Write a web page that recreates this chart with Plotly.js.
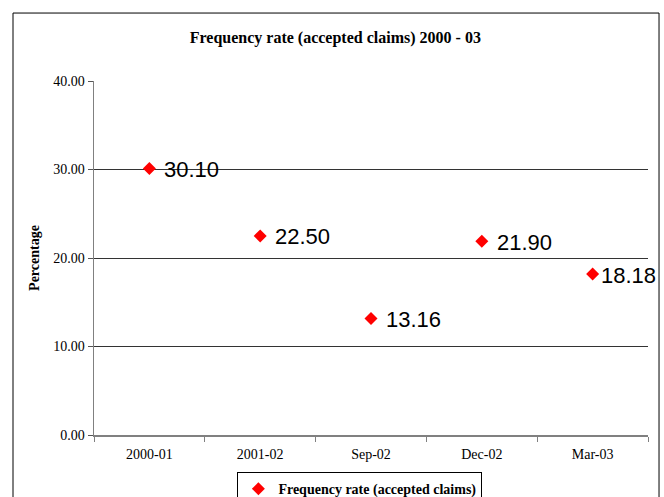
<!DOCTYPE html>
<html><head><meta charset="utf-8">
<script src="https://cdn.plot.ly/plotly-3.0.1.min.js"></script>
<style>body{margin:0;background:#fff}#c{width:664px;height:497px}</style>
</head><body><div id="c"></div>
<script>
const categories = ["2000-01", "2001-02", "Sep-02", "Dec-02", "Mar-03"];
const frequencyRate = [30.10, 22.50, 13.16, 21.90, 18.18];
const yTicks = [0, 10, 20, 30, 40];
const seriesName = "Frequency rate (accepted claims)";
const chartTitle = "Frequency rate (accepted claims) 2000 - 03";
const yTitle = "Percentage";

const serif = "Liberation Serif, Times New Roman, serif";
const sans = "Liberation Sans, Arial, sans-serif";

const trace = {
  type: "scatter",
  mode: "markers",
  x: categories,
  y: frequencyRate,
  name: seriesName,
  marker: {symbol: "diamond", size: 10, color: "#ff0000"},
  cliponaxis: false
};

const labelShift = [13, 13, 13, 13, 6];
const annotations = categories.map((c, i) => ({
  x: c, y: frequencyRate[i], xref: "x", yref: "y",
  text: frequencyRate[i].toFixed(2), showarrow: false,
  xanchor: "left", yanchor: "middle", xshift: labelShift[i], yshift: -1,
  font: {family: sans, size: 22, color: "#000"}
}));

const layout = {
  width: 664, height: 497,
  margin: {l: 94, r: 16, t: 81, b: 62, autoexpand: false},
  paper_bgcolor: "#fff", plot_bgcolor: "#fff",
  title: {text: "<b>" + chartTitle + "</b>", font: {family: serif, size: 16, color: "#000"},
          x: 0.505, xanchor: "center", y: 0.925, yanchor: "middle", xref: "container", yref: "container"},
  showlegend: true,
  legend: {orientation: "h", x: 0.542, xanchor: "center", xref: "container",
           y: 0.05, yanchor: "top", yref: "container",
           bordercolor: "#000", borderwidth: 1, bgcolor: "#fff",
           font: {family: serif, size: 14, color: "#000", weight: "bold"},
           itemwidth: 30},
  xaxis: {type: "category", range: [-0.5, 4.5], autorange: false, showgrid: false, showline: true,
          linecolor: "#808080", linewidth: 1.5,
          ticks: "outside", tickson: "boundaries", ticklen: 5, tickcolor: "#808080",
          ticklabelstandoff: 6,
          tickfont: {family: serif, size: 14, color: "#000"}, zeroline: false, fixedrange: true},
  yaxis: {range: [0, 40], autorange: false, tickvals: yTicks, tickformat: ".2f", showgrid: true, gridcolor: "#333",
          gridwidth: 1, showline: true, linecolor: "#808080", linewidth: 1.5,
          ticks: "outside", ticklen: 5, tickcolor: "#555",
          tickfont: {family: serif, size: 14, color: "#000"}, zeroline: false,
          title: {text: "<b>" + yTitle + "</b>", font: {family: serif, size: 14, color: "#000"}, standoff: 10}},
  annotations: annotations,
  shapes: [{type: "rect", xref: "paper", yref: "paper", x0: -0.1462, x1: 1.0199, y0: -0.3, y1: 1.192,
            line: {color: "#000", width: 1}, fillcolor: "rgba(0,0,0,0)", layer: "below"}]
};

Plotly.newPlot("c", [trace], layout, {displayModeBar: false, staticPlot: true});
</script></body></html>
